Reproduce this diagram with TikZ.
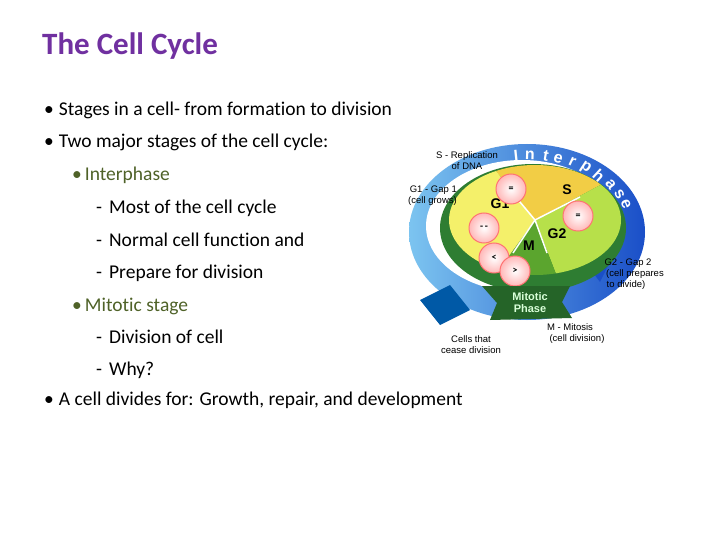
\documentclass[tikz,border=0pt]{standalone}
\usepackage{fontspec}
\setmainfont{Carlito}[Ligatures=NoCommon]
\newfontfamily\arialf{Liberation Sans}
\usetikzlibrary{shadings}
\definecolor{ttl}{HTML}{7030A0}
\definecolor{grn}{HTML}{4F6228}
\definecolor{ringb}{HTML}{1A4FC8}
\definecolor{ringl}{HTML}{7CC4F0}
\definecolor{rim}{HTML}{2E7D32}
\definecolor{gone}{HTML}{F4F06A}
\definecolor{sss}{HTML}{F2CD45}
\definecolor{gtwo}{HTML}{B7E04A}
\definecolor{mmm}{HTML}{5BA52E}
\begin{document}
\begin{tikzpicture}[x=1pt,y=-1pt,
  bul/.style={anchor=base west,font=\fontsize{19.5}{22}\selectfont,inner sep=0},
  lab/.style={font=\arialf\fontsize{9.5}{11}\selectfont,inner sep=0,align=center},
  cell/.style={circle,minimum size=30pt,inner sep=0,draw=pink!60!red,line width=1pt,inner color=white,outer color=pink!80!red!70}]
\path[fill=white] (0,0) rectangle (720,540);
\node[anchor=base west,inner sep=0,text=ttl,font=\bfseries\fontsize{31}{33}\selectfont] (title) at (42,55) {The Cell Cycle};
% bullets
\node[bul] (b1) at (44,116) {•\hspace{5pt}Stages in a cell- from formation to division};
\node[bul] (b2) at (44,148) {•\hspace{5pt}Two major stages of the cell cycle:};
\node[bul,text=grn] (s1) at (72,181) {•\hspace{3pt}Interphase};
\node[bul] (d1) at (96,214) {-\hspace{7pt}Most of the cell cycle};
\node[bul] (d2) at (96,246) {-\hspace{7pt}Normal cell function and};
\node[bul] (d3) at (96,278) {-\hspace{7pt}Prepare for division};
\node[bul,text=grn] (s2) at (72,311) {•\hspace{3pt}Mitotic stage};
\node[bul] (d4) at (96,343) {-\hspace{7pt}Division of cell};
\node[bul] (d5) at (96,375) {-\hspace{7pt}Why?};
\node[bul] (b3) at (44,405) {•\hspace{5pt}A cell divides for: Growth, repair, and development};
% outer ring
\shade[left color=ringl,right color=ringb] (527,232) ellipse [x radius=118,y radius=88];
\fill[white] (522,226) ellipse [x radius=96,y radius=66];
\fill[teal!70!blue] (420,300) -- (450,285) -- (470,310) -- (440,325) -- cycle;
\fill[ringb] (585,262) -- (618,245) -- (600,282) -- cycle;
% rim and sectors
\fill[rim] (533,228) ellipse [x radius=93,y radius=64];
\def\cx{535}\def\cy{220}
\fill[sss] (\cx,\cy) -- plot[domain=243:320,samples=30] ({\cx+86*cos(\x)},{\cy+55*sin(\x)}) -- cycle;
\fill[gtwo] (\cx,\cy) -- plot[domain=320:436,samples=30] ({\cx+86*cos(\x)},{\cy+55*sin(\x)}) -- cycle;
\fill[mmm] (\cx,\cy) -- plot[domain=76:115,samples=20] ({\cx+86*cos(\x)},{\cy+55*sin(\x)}) -- cycle;
\fill[gone] (\cx,\cy) -- plot[domain=115:243,samples=30] ({\cx+86*cos(\x)},{\cy+55*sin(\x)}) -- cycle;
\draw[white,line width=1.5pt] (\cx,\cy) -- (500,178) (\cx,\cy) -- (580,197) (\cx,\cy) -- (513,253) (\cx,\cy) -- (547,253);
\node[font=\arialf\bfseries\fontsize{14}{14}\selectfont] (lg1) at (500,204) {G1};
\node[font=\arialf\bfseries\fontsize{14}{14}\selectfont] (ls) at (567,190) {S};
\node[font=\arialf\bfseries\fontsize{14}{14}\selectfont] (lg2) at (557,234) {G2};
\node[font=\arialf\bfseries\fontsize{14}{14}\selectfont] (lm) at (529,246) {M};
% cells
\node[cell] (c1) at (511,189) {\bfseries=};
\node[cell] (c2) at (578,216) {\bfseries=};
\node[cell] (c3) at (484,228) {\bfseries-\,-};
\node[cell] (c5) at (494,258) {\bfseries<};
\node[cell] (c4) at (515,271) {\bfseries>};
% Interphase letters
\foreach \ch/\a [count=\i] in {I/0,n/6,t/13,e/18.5,r/25,p/31.5,h/39,a/46.5,s/53.5,e/60}{
  \pgfmathsetmacro{\th}{264+\a*1.25}
  \node[text=white,font=\arialf\bfseries\fontsize{16}{16}\selectfont,inner sep=0,rotate={-(\th+90)}] (ip\i) at ({527+106*cos(\th)},{232+77*sin(\th)}) {\ch};
}
% mitotic banner
\fill[rim!80!black] (482,286) -- (570,286) -- (562,302) -- (572,318) -- (490,320) -- (497,303) -- cycle;
\node[font=\arialf\bfseries\fontsize{11}{12}\selectfont,text=white!85!green,align=center,inner sep=0] (mp) at (530,303) {Mitotic\\Phase};
% labels
\node[lab] (ls1) at (467,161) {S - Replication\\of DNA};
\node[lab,align=right,anchor=east] (lg1t) at (457,196) {G1 - Gap 1\\(cell grows)};
\node[lab] (lg2t) at (628,274) {G2 - Gap 2\\\hspace*{14pt}(cell prepares\\\hspace*{-4pt}to divide)};
\node[lab] (lmt) at (570,334) {M - Mitosis\\\hspace*{14pt}(cell division)};
\node[lab] (lct) at (471,345) {Cells that\\cease division};
\end{tikzpicture}
\end{document}
